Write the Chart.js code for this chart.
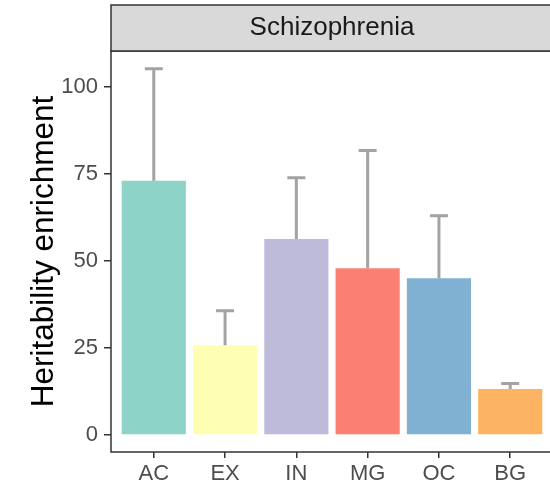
<!DOCTYPE html>
<html>
<head>
<meta charset="utf-8">
<script src="https://cdn.jsdelivr.net/npm/chart.js@4"></script>
<style>
  html, body { margin: 0; padding: 0; background: #fff; overflow: hidden; }
  #wrap { width: 556px; height: 490px; }
</style>
</head>
<body>
<div id="wrap"><canvas id="c" width="556" height="490"></canvas></div>
<script>
// Cell types and their heritability enrichment (bar value and upper error bound)
const categories = ['AC', 'EX', 'IN', 'MG', 'OC', 'BG'];
const enrichment = [73.0, 25.8, 56.3, 47.9, 45.0, 13.2];
const upperBound = [105.2, 35.7, 73.9, 81.7, 63.0, 14.8];
const barColors = ['#8DD3C7', '#FFFFB3', '#BEBADA', '#FB8072', '#80B1D3', '#FDB462'];
const yTicks = [0, 25, 50, 75, 100];
const panelTitle = 'Schizophrenia';

const FONT = '"Liberation Sans", Arial, Helvetica, sans-serif';
Chart.defaults.font.family = FONT;

// Facet strip, panel frame and error bars
const facetPlugin = {
  id: 'facet',
  afterDatasetsDraw(chart) {
    const { ctx, chartArea: a, scales: { x, y } } = chart;
    ctx.save();
    // error bars (upper half, above each bar)
    ctx.strokeStyle = '#A3A3A3';
    ctx.lineWidth = 3;
    enrichment.forEach((v, i) => {
      const px = x.getPixelForValue(i);
      const y0 = y.getPixelForValue(v);
      const y1 = y.getPixelForValue(upperBound[i]);
      ctx.beginPath();
      ctx.moveTo(px, y0);
      ctx.lineTo(px, y1);
      ctx.moveTo(px - 9, y1);
      ctx.lineTo(px + 9, y1);
      ctx.stroke();
    });
    // panel border
    ctx.strokeStyle = '#333333';
    ctx.lineWidth = 1.5;
    ctx.strokeRect(a.left, a.top, a.right - a.left, a.bottom - a.top);
    // strip
    const sTop = 5;
    ctx.fillStyle = '#D9D9D9';
    ctx.fillRect(a.left, sTop, a.right - a.left, a.top - sTop);
    ctx.strokeRect(a.left, sTop, a.right - a.left, a.top - sTop);
    ctx.fillStyle = '#1A1A1A';
    ctx.font = '26px ' + FONT;
    ctx.textAlign = 'center';
    ctx.textBaseline = 'middle';
    ctx.fillText(panelTitle, (a.left + a.right) / 2, (sTop + a.top) / 2);
    ctx.restore();
  }
};

new Chart(document.getElementById('c'), {
  type: 'bar',
  data: {
    datasets: [{
      data: enrichment.map((v, i) => ({ x: i, y: v })),
      backgroundColor: barColors,
      borderWidth: 0,
      categoryPercentage: 0.9,
      barPercentage: 1.0
    }]
  },
  options: {
    responsive: false,
    animation: false,
    layout: { padding: { top: 51, left: 0, right: 3, bottom: 0 } },
    plugins: { legend: { display: false }, tooltip: { enabled: false } },
    scales: {
      x: {
        type: 'linear',
        offset: false,
        min: -0.6,
        max: 5.6,
        afterBuildTicks: s => { s.ticks = categories.map((_, i) => ({ value: i })); },
        afterFit: s => { s.height = 38; },
        border: { display: false },
        grid: { offset: false, drawOnChartArea: false, drawTicks: true, tickLength: 6, color: '#333333', lineWidth: 1.5 },
        ticks: {
          autoSkip: false,
          maxRotation: 0,
          padding: 3,
          color: '#4D4D4D',
          font: { size: 22 },
          callback: v => categories[v]
        }
      },
      y: {
        min: -4.9,
        max: 110.3,
        afterBuildTicks: s => { s.ticks = yTicks.map(v => ({ value: v })); },
        afterFit: s => { s.width = 111; },
        border: { display: false },
        grid: { drawOnChartArea: false, drawTicks: true, tickLength: 7, color: '#333333', lineWidth: 1.5 },
        ticks: { padding: 6, color: '#4D4D4D', font: { size: 22 } },
        title: {
          display: true,
          text: 'Heritability enrichment',
          color: '#000000',
          font: { size: 31.5 },
          padding: { top: 25, bottom: 0 }
        }
      }
    }
  },
  plugins: [facetPlugin]
});
</script>
</body>
</html>
